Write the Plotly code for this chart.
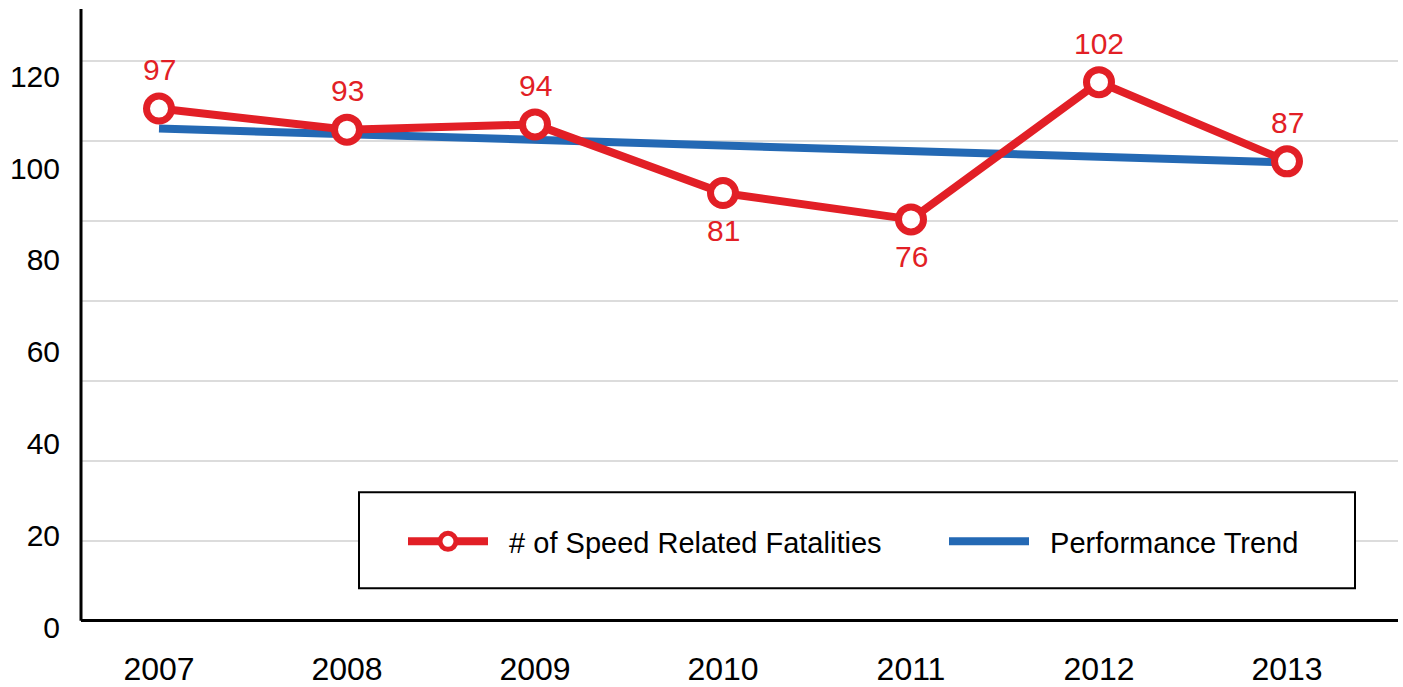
import plotly.graph_objects as go

# ---- data ----
years = ["2007", "2008", "2009", "2010", "2011", "2012", "2013"]
fatalities = [97, 93, 94, 81, 76, 102, 87]
trend = [93.2, 92.1, 91.1, 90.0, 88.9, 87.9, 86.8]
label_side = ["above", "above", "above", "below", "below", "above", "above"]
y_tick_labels = [0, 20, 40, 60, 80, 100, 120]
series_names = ["# of Speed Related Fatalities", "Performance Trend"]

x_idx = list(range(len(years)))

RED = "#E21F26"
BLUE = "#2469B4"
FONT = "Liberation Sans, Arial, Helvetica, sans-serif"
NBSP = "\u00a0"

W, H = 1403, 687
PLOT_L, PLOT_R, PLOT_T, PLOT_B = 81, 1398, 9, 632
PW, PH = PLOT_R - PLOT_L, PLOT_B - PLOT_T

# data scale
PX_PER_UNIT = 5.28
ZERO_PX = 620.7
y_range = [-(PLOT_B - ZERO_PX) / PX_PER_UNIT, (ZERO_PX - PLOT_T) / PX_PER_UNIT]
grid_step = 80 / PX_PER_UNIT

# label scale (labels in the original are spaced independently of the gridlines)
LBL_PX_PER_UNIT = 91.8 / 20
LBL_ZERO_PX = 627
y2_range = [-(PLOT_B - LBL_ZERO_PX) / LBL_PX_PER_UNIT, (LBL_ZERO_PX - PLOT_T) / LBL_PX_PER_UNIT]

CAT_PX = 188
x0 = -78 / CAT_PX
x_range = [x0, x0 + PW / CAT_PX]

fig = go.Figure()
fig.add_trace(go.Scatter(
    x=x_idx, y=trend, mode="lines", name=NBSP * 2 + series_names[1],
    line=dict(color=BLUE, width=8), hoverinfo="skip"))
fig.add_trace(go.Scatter(
    x=x_idx, y=fatalities, mode="lines+markers", name=NBSP * 2 + series_names[0],
    line=dict(color=RED, width=8),
    marker=dict(symbol="circle", size=25, color="white", line=dict(color=RED, width=7))))
# invisible trace to activate the label axis
fig.add_trace(go.Scatter(x=[x_idx[0]], y=[0], yaxis="y2", mode="markers",
                         marker=dict(opacity=0), showlegend=False, hoverinfo="skip"))

annotations = []
for xi, v, side in zip(x_idx, fatalities, label_side):
    annotations.append(dict(
        x=xi, y=v, xref="x", yref="y", text=str(v), showarrow=False,
        yshift=39 if side == "above" else -37,
        font=dict(family=FONT, size=30, color=RED)))

def px_x(p):
    return (p - PLOT_L) / PW

def px_y(p):
    return (PLOT_B - p) / PH

shapes = [
    # legend frame
    dict(type="rect", xref="paper", yref="paper",
         x0=px_x(359), x1=px_x(1355), y0=px_y(588.3), y1=px_y(492.3),
         line=dict(color="black", width=2), fillcolor="white", layer="above"),
    # vertical axis line
    dict(type="line", xref="paper", yref="y", x0=0, x1=0, y0=0, y1=y_range[1],
         line=dict(color="black", width=3), layer="above"),
]

fig.update_layout(
    width=W, height=H,
    margin=dict(l=PLOT_L, r=W - PLOT_R, t=PLOT_T, b=H - PLOT_B, pad=0, autoexpand=False),
    paper_bgcolor="white", plot_bgcolor="white",
    font=dict(family=FONT, color="black"),
    showlegend=True,
    legend=dict(orientation="h", x=px_x(403), y=px_y(541.5), xanchor="left", yanchor="middle",
                bgcolor="rgba(0,0,0,0)", borderwidth=0, itemwidth=80, entrywidth=446,
                font=dict(family=FONT, size=29, color="black"), traceorder="reversed"),
    xaxis=dict(range=x_range, tickvals=x_idx, ticktext=years, automargin=False,
               showgrid=False, zeroline=False, showline=False,
               ticks="", tickfont=dict(size=32, color="black"), ticklabelstandoff=15),
    yaxis=dict(range=y_range, tick0=0, dtick=grid_step, showticklabels=False, ticks="",
               automargin=False, showgrid=True, gridcolor="#DCDCDC", gridwidth=2,
               zeroline=True, zerolinecolor="black", zerolinewidth=3, showline=False),
    yaxis2=dict(range=y2_range, overlaying="y", side="left", anchor="x", automargin=False,
                tickvals=y_tick_labels, ticktext=[str(t) for t in y_tick_labels],
                showgrid=False, zeroline=False, showline=False, ticks="",
                tickfont=dict(size=30, color="black"), ticklabelstandoff=20),
    annotations=annotations,
    shapes=shapes,
    hovermode=False,
)

fig.write_html("out.html",
               config={"displayModeBar": False, "staticPlot": True},
               post_script="document.body.style.margin='0';document.body.style.overflow='hidden';")
